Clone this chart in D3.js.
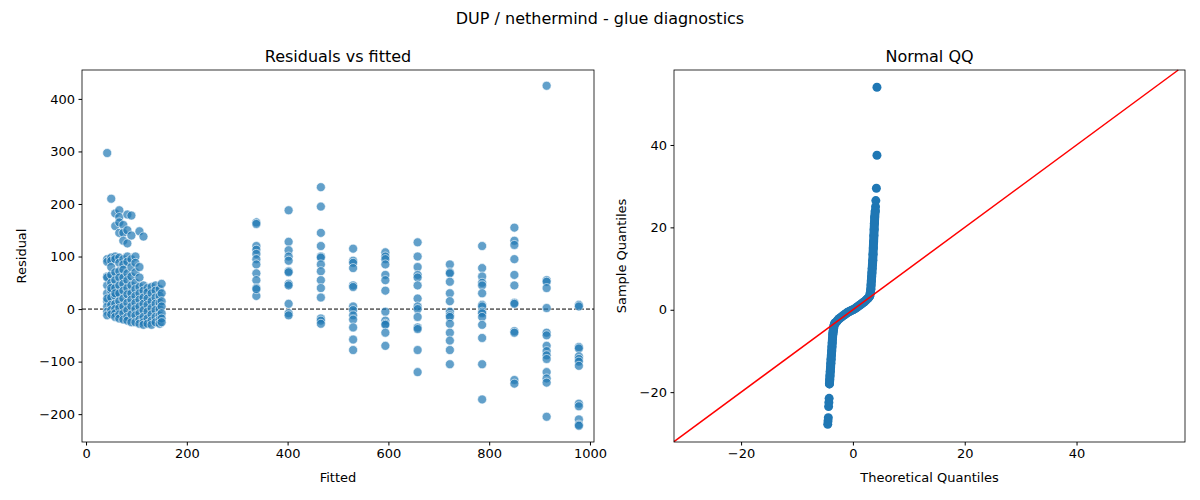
<!DOCTYPE html>
<html>
<head>
<meta charset="utf-8">
<script src="https://cdn.jsdelivr.net/npm/d3@7"></script>
<style>
  body { margin: 0; background: #fff; }
  text { font-family: "DejaVu Sans", sans-serif; fill: #000; }
</style>
</head>
<body>
<svg id="chart" width="1200" height="500"></svg>
<script>
// Low fitted-value cluster: fitted value per column and its residuals
var clusterFits = [42, 50, 58, 66, 74, 82, 90, 98, 106, 114, 122, 130, 138, 146, 150];
var clusterRes = [
  [297, 95, 90, 62, 45, 30, 15, 5, -5, -12, 60, 20],
  [210, 98, 92, 65, 50, 35, 22, 8, -2, -10, 80, 40],
  [158, 182, 100, 95, 70, 55, 40, 25, 10, 0, -8, -15, 30],
  [188, 175, 165, 145, 98, 88, 72, 60, 45, 30, 15, 2, -10, -18],
  [160, 145, 130, 95, 85, 75, 60, 48, 35, 20, 5, -8, -20],
  [150, 125, 180, 100, 90, 68, 55, 40, 28, 12, -2, -15, -22],
  [178, 140, 95, 80, 62, 45, 30, 18, 5, -10, -25],
  [100, 88, 70, 50, 38, 25, 12, 0, -12, -25],
  [148, 80, 60, 42, 30, 18, 5, -8, -20, -28],
  [138, 45, 35, 22, 10, -2, -15, -25, -30],
  [40, 32, 20, 8, -5, -18, -28],
  [42, 30, 15, 2, -10, -22, -30],
  [45, 35, 22, 10, -2, -15, -25],
  [38, 25, 12, 0, -12, -20, -28],
  [48, 30, 15, 5, -8, -18, -25]
];
// Discrete fitted levels and their residuals
var levelFits = [338, 402, 466, 530, 594, 658, 722, 786, 850, 914, 978];
var levelRes = [
  [165, 162, 120, 113, 105, 95, 85, 68, 55, 40, 25, 38],
  [188, 128, 112, 100, 92, 72, 70, 48, 45, 10, -8, -12],
  [232, 195, 145, 120, 100, 98, 85, 72, 55, 40, 22, -18, -22, -28],
  [115, 92, 88, 78, 45, 42, 5, -2, -12, -20, -35, -58, -78],
  [108, 100, 95, 85, 65, 55, 35, -5, -22, -28, -30, -45, -70],
  [127, 100, 80, 65, 60, 45, 20, 5, 0, -15, -35, -38, -78, -120],
  [85, 70, 68, 52, 30, 15, -5, -12, -15, -28, -45, -60, -78, -105],
  [120, 78, 62, 50, 45, 30, 8, 5, -5, -8, -15, -30, -55, -105, -172],
  [155, 130, 122, 95, 65, 45, 12, 10, -42, -45, -135, -142],
  [425, 55, 52, 40, 2, -45, -50, -70, -80, -88, -95, -120, -132, -140, -205],
  [8, 5, -72, -75, -90, -95, -100, -108, -180, -185, -210, -220, -222]
];
// Normal QQ: theoretical vs sample quantiles
var qqTheo = [-4.5, -4.45, -4.4, -4.35, -4.3, -4.25, -4.2, -4.15, -4.1, -4.05, -4.0, -3.95, -3.9, -3.85, -3.8, -3.75, -3.7, -3.65, -3.6, -3.55, -3.5, -3.45, -3.4, -3.3, -3.2,
  -3.0, -2.7, -2.4, -2.1, -1.8, -1.5, -1.2, -0.9, -0.6, -0.3, 0, 0.3, 0.6, 0.9, 1.2, 1.5, 1.8, 2.1, 2.4, 2.7, 3.0,
  3.1, 3.2, 3.25, 3.3, 3.35, 3.4, 3.45, 3.5, 3.55, 3.6, 3.65, 3.7, 3.75, 3.8, 3.85, 3.9, 4.0, 4.05, 4.1, 4.2, 4.3, 4.3];
var qqSample = [-27.8, -27, -26.2, -23.5, -22.5, -21.5, -18, -17, -16, -15, -14, -13, -12, -11, -10, -9, -8, -7, -6, -5.5, -5, -4.5, -4, -3.5, -3.2,
  -3, -2.5, -2.1, -1.8, -1.5, -1.2, -0.9, -0.6, -0.4, -0.2, 0, 0.2, 0.5, 0.8, 1.1, 1.4, 1.7, 2.0, 2.4, 2.8, 3.3,
  4, 5, 6, 7, 8, 9, 10, 11, 12, 13.5, 15, 16.5, 18, 19.5, 21, 22.5, 24, 25, 26.5, 29.5, 37.5, 54];

var svg = d3.select("#chart");
var blue = "#1f77b4";

svg.append("text").attr("x", 600).attr("y", 24).attr("text-anchor", "middle")
  .style("font-size", "16px").text("DUP / nethermind - glue diagnostics");

function frame(g, x, y, w, h, title, xlab, ylab, xs, ys, xticks, yticks) {
  g.append("g").attr("transform", "translate(0," + (y + h) + ")")
    .call(d3.axisBottom(xs).tickValues(xticks).tickFormat(d3.format("d")).tickSizeOuter(0).tickSize(3.5).tickPadding(3.5))
    .call(a => a.select(".domain").remove())
    .selectAll("text").style("font-size", "13px");
  g.append("g").attr("transform", "translate(" + x + ",0)")
    .call(d3.axisLeft(ys).tickValues(yticks).tickFormat(d3.format("d")).tickSizeOuter(0).tickSize(3.5).tickPadding(3.5))
    .call(a => a.select(".domain").remove())
    .selectAll("text").style("font-size", "13px");
  g.append("rect").attr("x", x).attr("y", y).attr("width", w).attr("height", h)
    .attr("fill", "none").attr("stroke", "#000").attr("stroke-width", 0.8);
  g.append("text").attr("x", x + w / 2).attr("y", y - 8).attr("text-anchor", "middle")
    .style("font-size", "16px").text(title);
  g.append("text").attr("x", x + w / 2).attr("y", y + h + 40).attr("text-anchor", "middle")
    .style("font-size", "13px").text(xlab);
  g.append("text").attr("transform", "translate(" + (x - (ylab == "Residual" ? 56 : 48)) + "," + (y + h / 2) + ") rotate(-90)")
    .attr("text-anchor", "middle").style("font-size", "13px").text(ylab);
}

// Left panel
var L = { x: 82, y: 70, w: 512, h: 372 };
var lx = d3.scaleLinear().domain([-8, 1008]).range([L.x, L.x + L.w]);
var ly = d3.scaleLinear().domain([-253, 455]).range([L.y + L.h, L.y]);
var left = svg.append("g");
var pts = [];
clusterFits.forEach((f, i) => clusterRes[i].forEach(r => pts.push([f, r])));
levelFits.forEach((f, i) => levelRes[i].forEach(r => pts.push([f, r])));
left.append("line").attr("x1", L.x).attr("x2", L.x + L.w).attr("y1", ly(0)).attr("y2", ly(0))
  .attr("stroke", "#000").attr("stroke-width", 1).attr("stroke-dasharray", "4,2");
left.selectAll("circle").data(pts).enter().append("circle")
  .attr("cx", d => lx(d[0])).attr("cy", d => ly(d[1])).attr("r", 4.5)
  .attr("fill", blue).attr("fill-opacity", 0.7).attr("stroke", "#fff").attr("stroke-width", 0.6);
frame(left, L.x, L.y, L.w, L.h, "Residuals vs fitted", "Fitted", "Residual", lx, ly,
  [0, 200, 400, 600, 800, 1000], [-200, -100, 0, 100, 200, 300, 400]);

// Right panel
var R = { x: 674, y: 70, w: 511, h: 372 };
var rx = d3.scaleLinear().domain([-32, 59.4]).range([R.x, R.x + R.w]);
var ry = d3.scaleLinear().domain([-32.1, 58.2]).range([R.y + R.h, R.y]);
var right = svg.append("g");
var qq = qqSample.map((s, i) => [qqTheo[i], s]);
right.selectAll("circle").data(qq).enter().append("circle")
  .attr("cx", d => rx(d[0])).attr("cy", d => ry(d[1])).attr("r", 4.5).attr("fill", blue);
// thick band along the dense centre of the QQ curve
right.append("path").datum(qq.filter(d => d[1] > -19 && d[1] < 25))
  .attr("d", d3.line().x(d => rx(d[0])).y(d => ry(d[1])).curve(d3.curveMonotoneY))
  .attr("fill", "none").attr("stroke", blue).attr("stroke-width", 9).attr("stroke-linecap", "round");
right.append("line").attr("x1", rx(-32)).attr("y1", ry(-32)).attr("x2", rx(58.2)).attr("y2", ry(58.2))
  .attr("stroke", "red").attr("stroke-width", 1.5);
frame(right, R.x, R.y, R.w, R.h, "Normal QQ", "Theoretical Quantiles", "Sample Quantiles", rx, ry,
  [-20, 0, 20, 40], [-20, 0, 20, 40]);
</script>
</body>
</html>
